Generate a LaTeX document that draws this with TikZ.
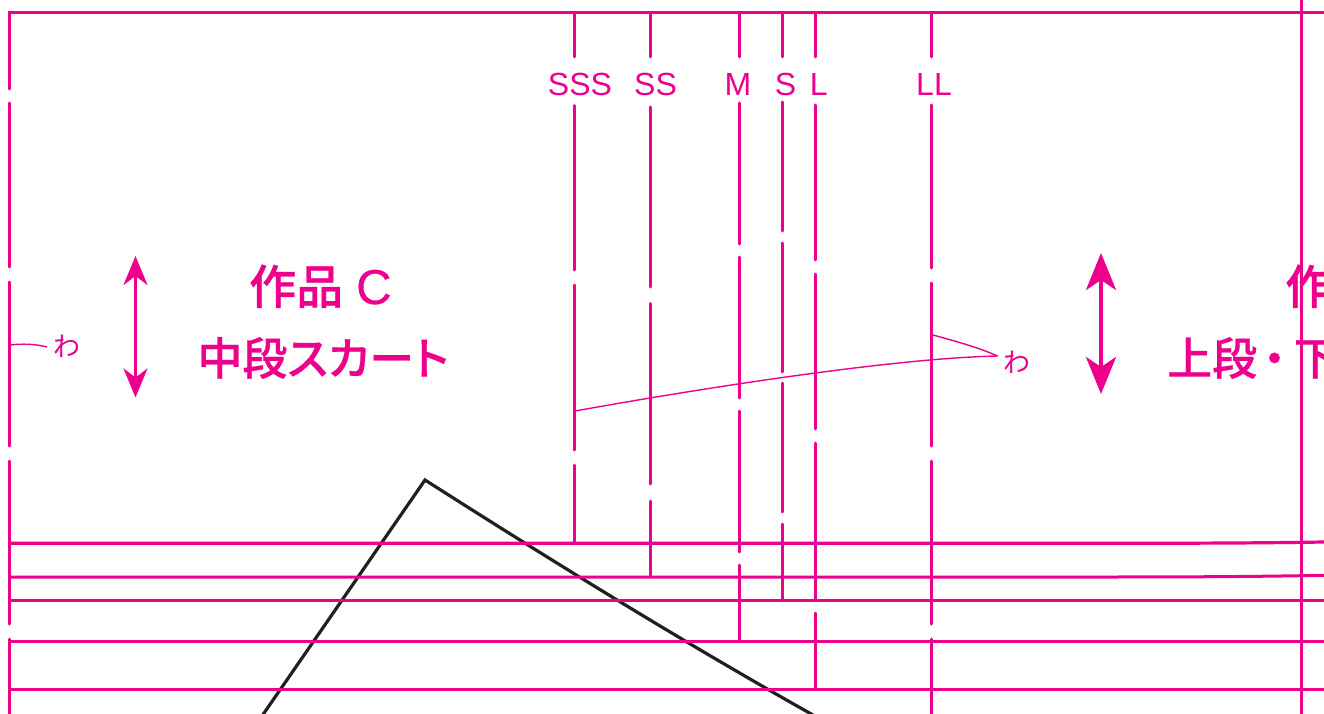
\documentclass[tikz,border=0pt]{standalone}
\usepackage{fontspec}
\usetikzlibrary{arrows.meta}
\newfontfamily\jpfont[RawFeature=+palt]{Noto Sans CJK JP}
\newfontfamily\jpmed[RawFeature=+palt,FakeBold=0.5]{Noto Sans CJK JP Medium}
\newfontfamily\lat{Liberation Sans}
\newfontfamily\latb[FakeBold=0.6]{Liberation Sans}
\definecolor{mag}{HTML}{EC008C}
\definecolor{blk}{HTML}{231F20}
\tikzset{
  x=1pt,y=-1pt,
  rule/.style={draw=mag,line width=3pt},
  cut/.style={draw=mag,line width=3pt,line cap=round},
  fine/.style={draw=mag,line width=1.4pt},
  size/.style={text=mag,inner sep=0pt,anchor=base,font=\lat\fontsize{32}{32}\selectfont},
  wa/.style={text=mag,inner sep=0pt,anchor=center,font=\jpfont\fontsize{27}{27}\selectfont},
  title/.style={text=mag,inner sep=0pt,anchor=base,font=\jpmed\fontsize{45}{45}\selectfont},
  smallarrow/.style={draw=mag,fill=mag,line width=3pt,{Stealth[length=29pt,width=24pt,inset=9pt]}-{Stealth[length=29pt,width=24pt,inset=9pt]}},
  bigarrow/.style={draw=mag,fill=mag,line width=3.8pt,{Stealth[length=37pt,width=30pt,inset=10pt]}-{Stealth[length=37pt,width=30pt,inset=10pt]}}
}
\begin{document}
\begin{tikzpicture}
\useasboundingbox (0,0) rectangle (1324,714);
\clip (0,0) rectangle (1324,714);
% black sheet edge
\draw[blk,line width=3.2pt,miter limit=10] (262,716) -- (425,480) .. controls (560,566) and (680,640) .. (813,715);
% horizontals
\draw[rule] (7.5,13) -- (1324,13);
\draw[rule,line width=3.2pt] (9,543.3) -- (1100,543.3) .. controls (1200,543.3) and (1260,543) .. (1324,542);
\draw[rule] (9,577) -- (1100,577) .. controls (1200,577) and (1260,576.5) .. (1324,575.3);
\draw[rule] (9,600) -- (1324,600);
\draw[rule] (9,641) -- (1324,641);
\draw[rule] (9,689) -- (1324,689);
% folded verticals, broken by gaps
\draw[cut] (9,13) -- (9,89) (9,103) -- (9,267) (9,282) -- (9,446) (9,461) -- (9,624) (9,639) -- (9,716);
\draw[cut] (574.7,13) -- (574.7,57) (574.7,105.5) -- (574.7,270) (574.7,285) -- (574.7,450) (574.7,465) -- (574.7,543);
\draw[cut] (650,13) -- (650,57) (650,107) -- (650,287) (650,303.5) -- (650,484) (650,501) -- (650,577);
\draw[cut] (739,13) -- (739,57) (739,103) -- (739,244) (739,257) -- (739,398) (739,411) -- (739,552) (739,565) -- (739,641);
\draw[cut] (782,13) -- (782,57) (782,102) -- (782,231) (782,243) -- (782,372) (782,383) -- (782,512) (782,524) -- (782,600);
\draw[cut] (815.7,13) -- (815.7,57) (815.7,105) -- (815.7,260) (815.7,274) -- (815.7,429) (815.7,443) -- (815.7,600) (815.7,613) -- (815.7,689);
\draw[cut] (931.3,13) -- (931.3,57) (931.3,105) -- (931.3,268) (931.3,283) -- (931.3,446) (931.3,461) -- (931.3,624) (931.3,639) -- (931.3,716);
\draw[mag,line width=2.2pt] (1301.5,0) -- (1301.5,714);
% size labels
\node[size] (sss) at (580,95.5) {SSS};
\node[size] (ss) at (655.5,95.5) {SS};
\node[size] (m) at (738,95.5) {M};
\node[size] (s) at (785.5,95.5) {S};
\node[size] (l) at (818.7,95.5) {L};
\node[size] (ll) at (934,95.5) {LL};
% fold leaders
\node[wa] (wal) at (66.5,346.5) {わ};
\node[wa] (war) at (1017,362.5) {わ};
\coordinate (wltip) at (47,347);
\coordinate (wrtip) at (997.5,356);
\draw[fine] (10,345) .. controls (22,343.5) and (36,344) .. (wltip);
\draw[fine] (575,411) .. controls (720,385) and (900,358) .. (wrtip);
\draw[fine] (933,335) .. controls (955,341) and (980,348) .. (wrtip);
% grain arrows
\coordinate (a1t) at (135.5,256);
\coordinate (a1b) at (135.5,397.5);
\coordinate (a2t) at (1101,253);
\coordinate (a2b) at (1101,394);
\draw[smallarrow] (a1t) -- (a1b);
\draw[bigarrow] (a2t) -- (a2b);
% titles
\node[title,anchor=base west] (t1) at (249,304) {\fontsize{47}{47}\selectfont 作品\hspace{13pt}{\latb\fontsize{49}{49}\selectfont C}};
\node[title] (t2) at (323,375) {中段スカート};
\node[title,anchor=base west] (t3) at (1285,304) {\fontsize{47}{47}\selectfont 作};
\node[title,anchor=base west] (t4) at (1167,375) {上段\hspace{6pt}・\hspace{8pt}下};
\end{tikzpicture}
\end{document}
